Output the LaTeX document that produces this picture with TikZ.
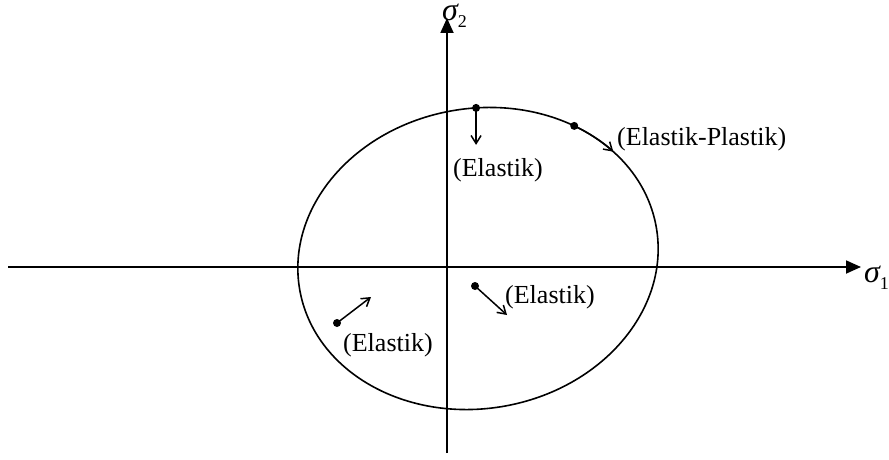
\documentclass[tikz,border=0pt]{standalone}
\usepackage{fontspec}
\setmainfont{Liberation Serif}
\usetikzlibrary{arrows.meta,calc}
\tikzset{
  axis/.style={line width=1.8pt,-{Triangle[length=15pt,width=13pt]}},
  curve/.style={line width=1.6pt},
  small/.style={line width=1.5pt,-{Straight Barb[length=8pt,width=10pt]}},
  dotm/.style={circle,fill=black,inner sep=0pt,minimum size=8pt},
  lab/.style={inner sep=0pt,anchor=base west,font=\fontsize{26}{26}\selectfont},
  sig/.style={inner sep=0pt,anchor=base west,text height=15pt}
}
\newcommand{\sigl}[1]{{\fontsize{32}{32}\selectfont\itshape σ}\raisebox{-7pt}{\fontsize{18}{18}\selectfont #1}}
\begin{document}
\begin{tikzpicture}[x=1pt,y=1pt]
\useasboundingbox (0,0) rectangle (889,459);
% axes
\coordinate (xs) at (8,192);
\coordinate (xe) at (861,192);
\coordinate (ys) at (447,6);
\coordinate (ye) at (447,441);
\draw[axis] (xs) -- (xe);
\draw[axis] (ys) -- (ye);
\node[sig] (s1) at (864,177) {\sigl{1}};
\node[sig] (s2) at (442,438) {\sigl{2}};
% yield surface
\begin{scope}[shift={(478,200.5)},rotate=10]
  \draw[curve] (0,0) ellipse [x radius=181,y radius=150];
  \coordinate (A) at (82.3:181 and 150);
  \coordinate (B) at (49.4:181 and 150);
  \draw[small] (B) arc[start angle=49.4,end angle=33,x radius=181,y radius=150];
\end{scope}
\node[dotm] (dA) at (A) {};
\node[dotm] (dB) at (B) {};
\coordinate (tA) at ($(A)+(0,-37)$);
\draw[small] (dA.center) -- (tA);
% interior points
\node[dotm] (dC) at (475,173) {};
\coordinate (tC) at (507,144);
\draw[small] (dC.center) -- (tC);
\node[dotm] (dD) at (337,136) {};
\coordinate (tD) at (371,162);
\draw[small] (dD.center) -- (tD);
% labels
\node[lab] (l1) at (453,282.5) {(Elastik)};
\node[lab] (l2) at (617,314) {(Elastik-Plastik)};
\node[lab] (l3) at (505,156) {(Elastik)};
\node[lab] (l4) at (343,108) {(Elastik)};
\end{tikzpicture}
\end{document}
